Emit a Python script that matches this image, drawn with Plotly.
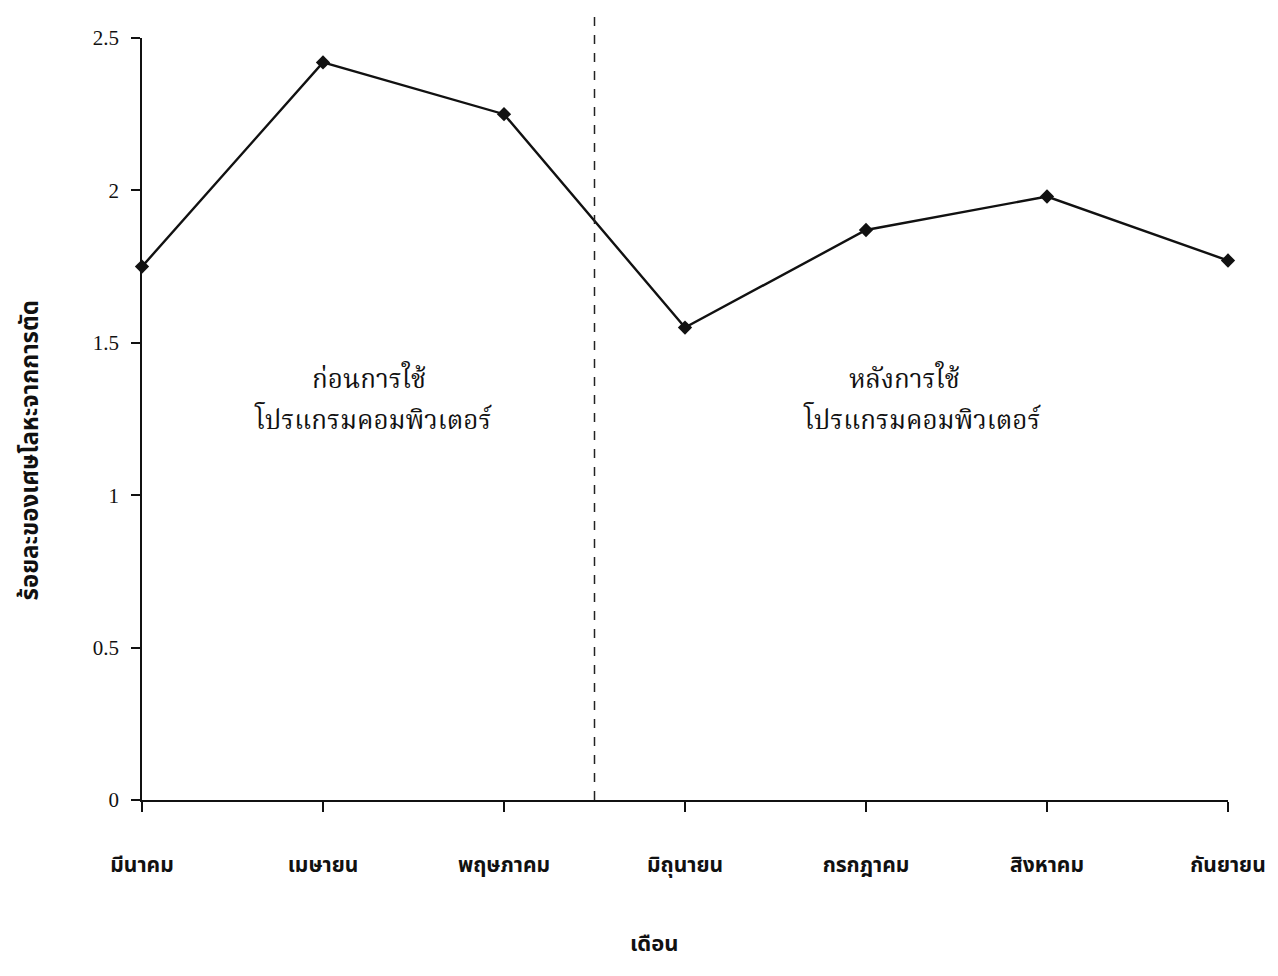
import plotly.graph_objects as go

months = ["มีนาคม", "เมษายน", "พฤษภาคม", "มิถุนายน", "กรกฎาคม", "สิงหาคม", "กันยายน"]
scrap_pct = [1.75, 2.42, 2.25, 1.55, 1.87, 1.98, 1.77]
y_ticks = [0, 0.5, 1, 1.5, 2, 2.5]
y_tick_text = ["0", "0.5", "1", "1.5", "2", "2.5"]

x_idx = list(range(len(months)))

fig = go.Figure()
fig.add_trace(go.Scatter(
    x=x_idx, y=scrap_pct, mode="lines+markers",
    line=dict(color="#111111", width=2.4),
    marker=dict(symbol="diamond", size=11, color="#111111"),
    showlegend=False, cliponaxis=False,
))

fig.add_shape(type="line", xref="x", yref="paper", x0=2.5, x1=2.5, y0=0, y1=1.04,
              line=dict(color="#222222", width=1.5, dash="dash"))

thai_serif = "Noto Serif Thai, Noto Sans Thai, Liberation Serif, serif"
thai_bold = "Noto Sans Thai, Noto Sans, DejaVu Sans, sans-serif"

for x, y, t in [(1.254, 1.375, "ก่อนการใช้"), (1.276, 1.24, "โปรแกรมคอมพิวเตอร์"),
                (4.215, 1.375, "หลังการใช้"), (4.31, 1.24, "โปรแกรมคอมพิวเตอร์")]:
    fig.add_annotation(x=x, y=y, xref="x", yref="y", text=t, showarrow=False,
                       font=dict(family=thai_serif, size=26, color="#111111"))

fig.add_annotation(x=0.472, y=-0.19, xref="paper", yref="paper", text="<b>เดือน</b>",
                   showarrow=False, yanchor="middle", xanchor="center",
                   font=dict(family=thai_bold, size=22, color="#111111"))
fig.add_annotation(x=-0.102, y=0.459, xref="paper", yref="paper",
                   text="<b>ร้อยละของเศษโลหะจากการตัด</b>", textangle=-90,
                   showarrow=False, xanchor="center", yanchor="middle",
                   font=dict(family=thai_bold, size=24, color="#111111"))

fig.update_xaxes(
    range=[0, 6], tickmode="array", tickvals=x_idx,
    ticktext=["<b>%s</b>" % m for m in months],
    showgrid=False, zeroline=False, showline=True, linecolor="#111111", linewidth=1.5,
    ticks="outside", ticklen=10, tickwidth=1.5, tickcolor="#111111",
    ticklabelstandoff=35,
    tickfont=dict(family=thai_bold, size=21, color="#111111"),
)
fig.update_yaxes(
    range=[0, 2.5], tickmode="array", tickvals=y_ticks, ticktext=y_tick_text,
    showgrid=False, zeroline=False, showline=True, linecolor="#111111", linewidth=1.5,
    ticks="outside", ticklen=9, tickwidth=1.5, tickcolor="#111111",
    ticklabelstandoff=8,
    tickfont=dict(family="Liberation Serif, serif", size=21, color="#111111"),
)

fig.update_layout(
    width=1278, height=976,
    margin=dict(l=134, r=58, t=30, b=184),
    plot_bgcolor="white", paper_bgcolor="white",
)

fig.write_html("out.html")
